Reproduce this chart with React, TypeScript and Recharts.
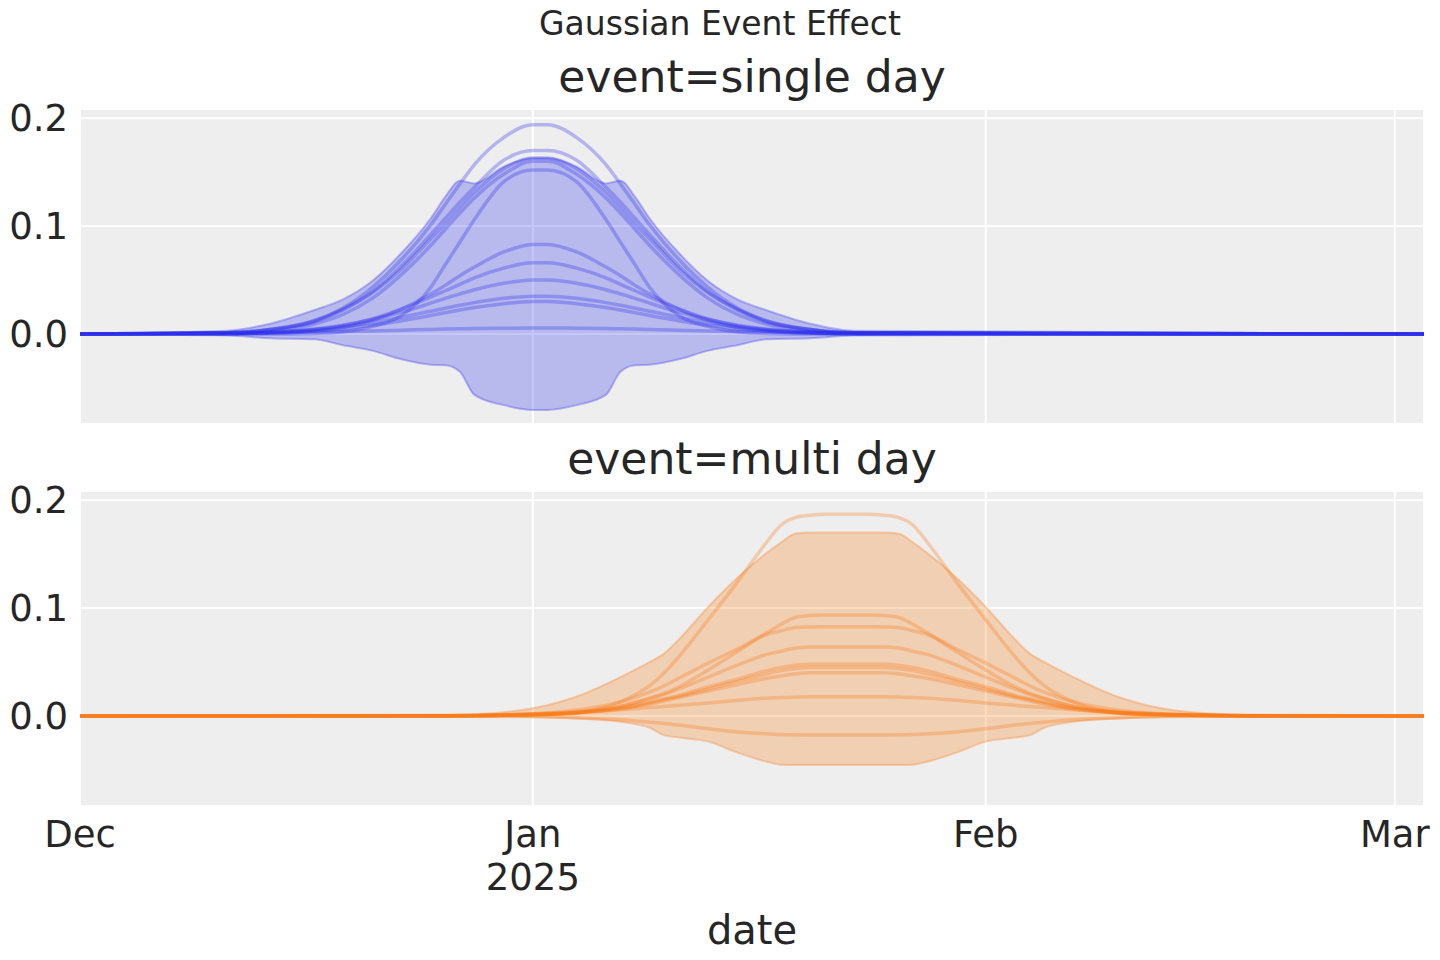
import React from 'react';
import { ComposedChart, Area, Line, XAxis, YAxis, CartesianGrid } from 'recharts';

const BLUE = '#2a2eec';
const ORANGE = '#fa7c17';
const TEXT = '#262626';
const FONT = '"DejaVu Sans", sans-serif';

// x axis: days since 1 Dec 2024
const xTickDays = [0, 31, 62, 90];
const xTickMonths = ['Dec', 'Jan', 'Feb', 'Mar'];
const xTickYears = ['', '2025', '', ''];
const yTicks = [0, 0.1, 0.2];

// event = single day
const singleDays = [0, 10, 13, 16, 18, 20, 22, 24, 25, 26, 27, 29, 31, 32, 34, 36, 37, 38, 39, 41, 43, 45, 47, 50, 53, 92];
const singleHdiLow = [0, -0.0015, -0.004, -0.005, -0.0105, -0.0155, -0.0235, -0.0285, -0.029, -0.035, -0.0565, -0.066, -0.0705, -0.0705, -0.066, -0.0565, -0.035, -0.029, -0.0285, -0.0235, -0.0155, -0.0105, -0.005, -0.004, -0.0015, 0];
const singleHdiHigh = [0, 0.003, 0.0095, 0.022, 0.032, 0.049, 0.075, 0.107, 0.127, 0.142, 0.1395, 0.155, 0.163, 0.163, 0.155, 0.1395, 0.142, 0.127, 0.107, 0.075, 0.049, 0.032, 0.022, 0.0095, 0.003, 0];
const singleSamples = [
  [0, 0.001, 0.004, 0.012, 0.024, 0.043, 0.069, 0.101, 0.12, 0.139, 0.157, 0.182, 0.194, 0.194, 0.182, 0.157, 0.139, 0.12, 0.101, 0.069, 0.043, 0.024, 0.012, 0.004, 0.001, 0],
  [0, 0.001, 0.004, 0.012, 0.023, 0.039, 0.063, 0.092, 0.107, 0.122, 0.136, 0.161, 0.17, 0.17, 0.161, 0.136, 0.122, 0.107, 0.092, 0.063, 0.039, 0.023, 0.012, 0.004, 0.001, 0],
  [0, 0.001, 0.004, 0.011, 0.022, 0.038, 0.06, 0.088, 0.102, 0.117, 0.131, 0.153, 0.163, 0.163, 0.153, 0.131, 0.117, 0.102, 0.088, 0.06, 0.038, 0.022, 0.011, 0.004, 0.001, 0],
  [0, 0.001, 0.003, 0.009, 0.018, 0.033, 0.055, 0.082, 0.097, 0.112, 0.126, 0.148, 0.16, 0.16, 0.148, 0.126, 0.112, 0.097, 0.082, 0.055, 0.033, 0.018, 0.009, 0.003, 0.001, 0],
  [0, 0, 0, 0.0005, 0.002, 0.007, 0.017, 0.043, 0.064, 0.085, 0.106, 0.141, 0.152, 0.152, 0.141, 0.106, 0.085, 0.064, 0.043, 0.017, 0.007, 0.002, 0.0005, 0, 0, 0],
  [0, 0.0001, 0.0006, 0.0027, 0.006, 0.0125, 0.023, 0.037, 0.045, 0.054, 0.062, 0.076, 0.083, 0.083, 0.076, 0.062, 0.054, 0.045, 0.037, 0.023, 0.0125, 0.006, 0.0027, 0.0006, 0.0001, 0],
  [0, 0.0003, 0.0012, 0.0039, 0.0077, 0.014, 0.023, 0.034, 0.04, 0.046, 0.052, 0.061, 0.066, 0.066, 0.061, 0.052, 0.046, 0.04, 0.034, 0.023, 0.014, 0.0077, 0.0039, 0.0012, 0.0003, 0],
  [0, 0.0005, 0.0016, 0.0045, 0.0081, 0.0133, 0.02, 0.0285, 0.033, 0.037, 0.041, 0.047, 0.05, 0.05, 0.047, 0.041, 0.037, 0.033, 0.0285, 0.02, 0.0133, 0.0081, 0.0045, 0.0016, 0.0005, 0],
  [0, 0.0005, 0.0016, 0.0039, 0.0067, 0.0105, 0.0154, 0.021, 0.0238, 0.0266, 0.029, 0.033, 0.035, 0.035, 0.033, 0.029, 0.0266, 0.0238, 0.021, 0.0154, 0.0105, 0.0067, 0.0039, 0.0016, 0.0005, 0],
  [0, 0.0003, 0.001, 0.0027, 0.0049, 0.008, 0.0122, 0.0171, 0.0197, 0.0222, 0.0245, 0.028, 0.03, 0.03, 0.028, 0.0245, 0.0222, 0.0197, 0.0171, 0.0122, 0.008, 0.0049, 0.0027, 0.001, 0.0003, 0],
  [0, 0.0005, 0.001, 0.0017, 0.0022, 0.0028, 0.0035, 0.0042, 0.0045, 0.0047, 0.005, 0.0053, 0.0055, 0.0055, 0.0053, 0.005, 0.0047, 0.0045, 0.0042, 0.0035, 0.0028, 0.0022, 0.0017, 0.001, 0.0005, 0],
];

// event = multi day
const multiDays = [0, 25, 30, 34, 37, 39, 40, 41, 43, 45, 47, 48, 49, 50, 51, 52, 53, 54, 55, 56, 57, 58, 60, 62, 64, 65, 66, 68, 71, 75, 80, 92];
const multiHdiLow = [0, 0, -0.0008, -0.0025, -0.0055, -0.011, -0.018, -0.02, -0.0238, -0.034, -0.0425, -0.0452, -0.0454, -0.0454, -0.0454, -0.0454, -0.0454, -0.0454, -0.0454, -0.0454, -0.0452, -0.0425, -0.034, -0.0238, -0.02, -0.018, -0.011, -0.0055, -0.0025, -0.0008, 0, 0];
const multiHdiHigh = [0, 0.001, 0.005, 0.018, 0.036, 0.05, 0.058, 0.071, 0.101, 0.128, 0.151, 0.161, 0.169, 0.17, 0.17, 0.17, 0.17, 0.17, 0.17, 0.169, 0.161, 0.151, 0.128, 0.101, 0.071, 0.058, 0.05, 0.036, 0.018, 0.005, 0.001, 0];
const multiSamples = [
  [0, 0, 0.0005, 0.003, 0.013, 0.028, 0.04, 0.055, 0.089, 0.124, 0.161, 0.177, 0.184, 0.186, 0.187, 0.187, 0.187, 0.187, 0.186, 0.184, 0.177, 0.161, 0.124, 0.089, 0.055, 0.04, 0.028, 0.013, 0.003, 0.0005, 0, 0],
  [0, 0, 0.0007, 0.003, 0.009, 0.0165, 0.021, 0.027, 0.0426, 0.0595, 0.077, 0.085, 0.0915, 0.093, 0.0935, 0.0935, 0.0935, 0.0935, 0.093, 0.0915, 0.085, 0.077, 0.0595, 0.0426, 0.027, 0.021, 0.0165, 0.009, 0.003, 0.0007, 0, 0],
  [0, 0.0002, 0.0015, 0.0055, 0.013, 0.022, 0.028, 0.035, 0.049, 0.062, 0.0755, 0.079, 0.082, 0.0825, 0.0827, 0.0827, 0.0827, 0.0827, 0.0825, 0.082, 0.079, 0.0755, 0.062, 0.049, 0.035, 0.028, 0.022, 0.013, 0.0055, 0.0015, 0.0002, 0],
  [0, 0, 0.001, 0.004, 0.009, 0.016, 0.02, 0.025, 0.036, 0.047, 0.057, 0.06, 0.063, 0.064, 0.064, 0.064, 0.064, 0.064, 0.064, 0.063, 0.06, 0.057, 0.047, 0.036, 0.025, 0.02, 0.016, 0.009, 0.004, 0.001, 0, 0],
  [0, 0, 0.001, 0.003, 0.0075, 0.013, 0.016, 0.019, 0.027, 0.034, 0.042, 0.045, 0.047, 0.048, 0.048, 0.048, 0.048, 0.048, 0.048, 0.047, 0.045, 0.042, 0.034, 0.027, 0.019, 0.016, 0.013, 0.0075, 0.003, 0.001, 0, 0],
  [0, 0, 0.001, 0.003, 0.007, 0.012, 0.015, 0.018, 0.025, 0.032, 0.039, 0.042, 0.044, 0.045, 0.045, 0.045, 0.045, 0.045, 0.045, 0.044, 0.042, 0.039, 0.032, 0.025, 0.018, 0.015, 0.012, 0.007, 0.003, 0.001, 0, 0],
  [0, 0, 0.0008, 0.0025, 0.0065, 0.011, 0.014, 0.017, 0.023, 0.029, 0.035, 0.037, 0.039, 0.04, 0.04, 0.04, 0.04, 0.04, 0.04, 0.039, 0.037, 0.035, 0.029, 0.023, 0.017, 0.014, 0.011, 0.0065, 0.0025, 0.0008, 0, 0],
  [0, 0.0004, 0.0015, 0.0035, 0.0058, 0.0078, 0.0088, 0.0098, 0.012, 0.0145, 0.0165, 0.017, 0.0175, 0.0177, 0.0178, 0.0178, 0.0178, 0.0178, 0.0177, 0.0175, 0.017, 0.0165, 0.0145, 0.012, 0.0098, 0.0088, 0.0078, 0.0058, 0.0035, 0.0015, 0.0004, 0],
  [0, 0, -0.0005, -0.0016, -0.0036, -0.0058, -0.007, -0.0085, -0.0118, -0.0148, -0.0165, -0.0172, -0.0175, -0.0176, -0.0176, -0.0176, -0.0176, -0.0176, -0.0176, -0.0175, -0.0172, -0.0165, -0.0148, -0.0118, -0.0085, -0.007, -0.0058, -0.0036, -0.0016, -0.0005, 0, 0],
];

const buildRows = (days: number[], low: number[], high: number[], samples: number[][]) =>
  days.map((day, i) => {
    const row: any = { day, hdi: [low[i], high[i]] };
    samples.forEach((s, k) => {
      row[`s${k}`] = s[i];
    });
    return row;
  });

const DateTick = (props: any) => {
  const { x, y, payload } = props;
  const i = xTickDays.indexOf(payload.value);
  return (
    <text textAnchor="middle" fill={TEXT} fontSize={37} fontFamily={FONT}>
      <tspan x={x} y={y + 41}>{xTickMonths[i]}</tspan>
      {xTickYears[i] ? <tspan x={x} y={y + 84}>{xTickYears[i]}</tspan> : null}
    </text>
  );
};

type PanelProps = {
  days: number[];
  low: number[];
  high: number[];
  samples: number[][];
  color: string;
  showDates: boolean;
};

const Panel = ({ days, low, high, samples, color, showDates }: PanelProps) => {
  const rows = buildRows(days, low, high, samples);
  return (
    <ComposedChart
      width={1440}
      height={showDates ? 578 : 440}
      data={rows}
      margin={{ top: 109, right: 16, bottom: showDates ? 54 : 16, left: 0 }}
    >
      <CartesianGrid fill="#eeeeee" fillOpacity={1} stroke="#ffffff" strokeWidth={2} />
      <XAxis
        dataKey="day"
        type="number"
        domain={[0, 92]}
        ticks={xTickDays}
        allowDataOverflow
        hide={!showDates}
        height={100}
        axisLine={false}
        tickLine={false}
        tickSize={0}
        tickMargin={0}
        tick={<DateTick />}
        interval={0}
      />
      <YAxis
        type="number"
        domain={[-0.0835, 0.2085]}
        ticks={yTicks}
        allowDataOverflow
        width={80}
        axisLine={false}
        tickLine={false}
        tickSize={0}
        tickMargin={12}
        tick={{ fill: TEXT, fontSize: 37, fontFamily: FONT }}
        tickFormatter={(v: number) => v.toFixed(1)}
      />
      <Area
        dataKey="hdi"
        type="monotone"
        fill={color}
        fillOpacity={0.27}
        stroke={color}
        strokeOpacity={0.3}
        strokeWidth={2}
        dot={false}
        activeDot={false}
        isAnimationActive={false}
      />
      {samples.map((_, k) => (
        <Line
          key={k}
          dataKey={`s${k}`}
          type="monotone"
          stroke={color}
          strokeOpacity={0.3}
          strokeWidth={3.5}
          dot={false}
          activeDot={false}
          isAnimationActive={false}
        />
      ))}
    </ComposedChart>
  );
};

export default function App() {
  return (
    <div style={{ position: 'absolute', left: 0, top: 0, width: 1440, height: 960, background: '#ffffff' }}>
      <div style={{ position: 'absolute', left: 0, top: 0 }}>
        <Panel days={singleDays} low={singleHdiLow} high={singleHdiHigh} samples={singleSamples} color={BLUE} showDates={false} />
      </div>
      <div style={{ position: 'absolute', left: 0, top: 382 }}>
        <Panel days={multiDays} low={multiHdiLow} high={multiHdiHigh} samples={multiSamples} color={ORANGE} showDates={true} />
      </div>
      <svg
        width={1440}
        height={960}
        style={{ position: 'absolute', left: 0, top: 0, pointerEvents: 'none' }}
        fontFamily={FONT}
        fill={TEXT}
      >
        <text x={720} y={35} fontSize={33} textAnchor="middle">Gaussian Event Effect</text>
        <text x={752} y={92} fontSize={44} textAnchor="middle">event=single day</text>
        <text x={752} y={474} fontSize={44} textAnchor="middle">event=multi day</text>
        <text x={752} y={944} fontSize={40} textAnchor="middle">date</text>
      </svg>
    </div>
  );
}
